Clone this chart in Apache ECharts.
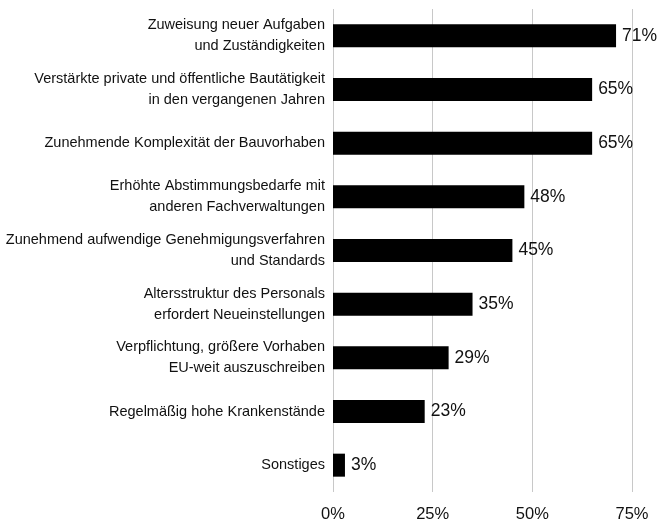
<!DOCTYPE html>
<html>
<head>
<meta charset="utf-8">
<script src="https://cdn.jsdelivr.net/npm/echarts@6/dist/echarts.min.js"></script>
<style>
  html, body { margin: 0; padding: 0; background: #fff; }
  #chart { width: 657px; height: 523px; }
</style>
</head>
<body>
<div id="chart"></div>
<script>
// categories top to bottom
const categories = [
  "Zuweisung neuer Aufgaben\nund Zuständigkeiten",
  "Verstärkte private und öffentliche Bautätigkeit\nin den vergangenen Jahren",
  "Zunehmende Komplexität der Bauvorhaben",
  "Erhöhte Abstimmungsbedarfe mit\nanderen Fachverwaltungen",
  "Zunehmend aufwendige Genehmigungsverfahren\nund Standards",
  "Altersstruktur des Personals\nerfordert Neueinstellungen",
  "Verpflichtung, größere Vorhaben\nEU-weit auszuschreiben",
  "Regelmäßig hohe Krankenstände",
  "Sonstiges"
];
const values = [71, 65, 65, 48, 45, 35, 29, 23, 3];
const xTicks = [0, 25, 50, 75];

const chart = echarts.init(document.getElementById("chart"));

const option = {
  animation: false,
  textStyle: { fontFamily: "Liberation Sans, Arial, sans-serif" },
  grid: { left: 333, right: 25, top: 9, bottom: 30 },
  xAxis: {
    type: "value",
    min: xTicks[0],
    max: xTicks[xTicks.length - 1],
    interval: 25,
    axisLine: { show: false },
    axisTick: { show: false },
    axisLabel: {
      color: "#111",
      fontSize: 16.5,
      margin: 14,
      formatter: (v) => v + "%",
    },
    splitLine: { show: true, lineStyle: { color: "#c8c8c8", width: 1 } },
  },
  yAxis: {
    type: "category",
    inverse: true,
    data: categories,
    axisLine: { show: false },
    axisTick: { show: false },
    axisLabel: {
      color: "#111",
      fontSize: 14.5,
      lineHeight: 21,
      margin: 8,
      align: "right",
    },
  },
  series: [
    {
      type: "bar",
      data: values,
      barWidth: 23,
      itemStyle: { color: "#000" },
      label: {
        show: true,
        position: "right",
        distance: 6,
        color: "#111",
        fontSize: 17.5,
        formatter: (p) => p.value + "%",
      },
    },
  ],
};

chart.setOption(option);
</script>
</body>
</html>
